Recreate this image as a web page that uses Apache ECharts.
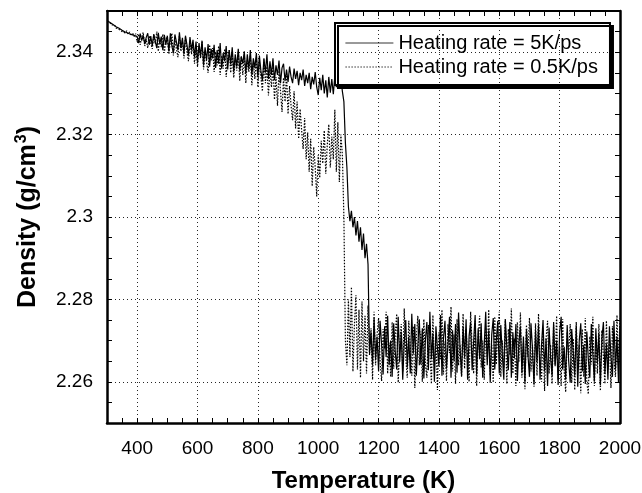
<!DOCTYPE html>
<html>
<head>
<meta charset="utf-8">
<script src="https://cdn.jsdelivr.net/npm/echarts@6/dist/echarts.min.js"></script>
<style>
html,body{margin:0;padding:0;background:#fff;}
#chart{width:642px;height:493px;}
</style>
</head>
<body>
<div id="chart"></div>
<script>
// Temperature grid (K), 300..2000 every 5 K
var temperature = [];
for (var t = 300; t <= 2000; t += 5) temperature.push(t);

// Heating rate = 5K/ps (solid), one value per 5 K
var rate5 = [
  2.3477, 2.3474, 2.3472, 2.3469, 2.3467, 2.3465, 2.3462, 2.3463, 2.3458, 2.3455,
  2.3453, 2.3455, 2.3449, 2.3451, 2.3446, 2.3448, 2.3443, 2.3446, 2.3441, 2.3444,
  2.3438, 2.3422, 2.3445, 2.3428, 2.3441, 2.3420, 2.3436, 2.3446, 2.3418, 2.3439,
  2.3415, 2.3444, 2.3426, 2.3410, 2.3447, 2.3420, 2.3438, 2.3405, 2.3442, 2.3418,
  2.3440, 2.3402, 2.3446, 2.3415, 2.3398, 2.3443, 2.3425, 2.3405, 2.3448, 2.3410,
  2.3435, 2.3396, 2.3440, 2.3418, 2.3392, 2.3437, 2.3405, 2.3430, 2.3388, 2.3426,
  2.3375, 2.3422, 2.3390, 2.3428, 2.3368, 2.3412, 2.3380, 2.3420, 2.3365, 2.3408,
  2.3385, 2.3418, 2.3362, 2.3405, 2.3372, 2.3422, 2.3360, 2.3398, 2.3378, 2.3415,
  2.3358, 2.3405, 2.3370, 2.3412, 2.3352, 2.3395, 2.3365, 2.3408, 2.3355, 2.3390,
  2.3372, 2.3402, 2.3348, 2.3395, 2.3360, 2.3405, 2.3345, 2.3385, 2.3362, 2.3398,
  2.3340, 2.3392, 2.3355, 2.3330, 2.3385, 2.3350, 2.3395, 2.3335, 2.3378, 2.3345,
  2.3385, 2.3332, 2.3368, 2.3345, 2.3380, 2.3325, 2.3362, 2.3372, 2.3330, 2.3358,
  2.3328, 2.3365, 2.3340, 2.3325, 2.3360, 2.3335, 2.3355, 2.3320, 2.3350, 2.3332,
  2.3358, 2.3318, 2.3345, 2.3325, 2.3350, 2.3310, 2.3340, 2.3322, 2.3352, 2.3315,
  2.3296, 2.3338, 2.3308, 2.3345, 2.3300, 2.3332, 2.3290, 2.3340, 2.3302, 2.3335,
  2.3298, 2.3342, 2.3315, 2.3348, 2.3320, 2.3338, 2.3305, 2.3280, 2.3180, 2.3120,
  2.3025, 2.2990, 2.3015, 2.2975, 2.3000, 2.2955, 2.2990, 2.2940, 2.2975, 2.2920,
  2.2960, 2.2900, 2.2935, 2.2885, 2.2670, 2.2720, 2.2640, 2.2755, 2.2655, 2.2710,
  2.2625, 2.2748, 2.2690, 2.2618, 2.2735, 2.2660, 2.2760, 2.2640, 2.2700, 2.2612,
  2.2742, 2.2675, 2.2630, 2.2758, 2.2648, 2.2722, 2.2605, 2.2695, 2.2750, 2.2635,
  2.2710, 2.2620, 2.2765, 2.2668, 2.2740, 2.2615, 2.2688, 2.2752, 2.2642, 2.2730,
  2.2608, 2.2700, 2.2745, 2.2628, 2.2770, 2.2655, 2.2718, 2.2600, 2.2735, 2.2682,
  2.2638, 2.2762, 2.2615, 2.2705, 2.2748, 2.2632, 2.2690, 2.2758, 2.2610, 2.2725,
  2.2650, 2.2740, 2.2622, 2.2768, 2.2680, 2.2615, 2.2735, 2.2660, 2.2752, 2.2605,
  2.2712, 2.2745, 2.2628, 2.2698, 2.2762, 2.2618, 2.2730, 2.2655, 2.2742, 2.2610,
  2.2688, 2.2770, 2.2640, 2.2725, 2.2598, 2.2715, 2.2755, 2.2630, 2.2700, 2.2748,
  2.2620, 2.2738, 2.2665, 2.2605, 2.2752, 2.2685, 2.2628, 2.2745, 2.2610, 2.2720,
  2.2658, 2.2740, 2.2602, 2.2695, 2.2735, 2.2622, 2.2710, 2.2598, 2.2728, 2.2665,
  2.2612, 2.2742, 2.2680, 2.2595, 2.2725, 2.2648, 2.2738, 2.2605, 2.2690, 2.2750,
  2.2625, 2.2705, 2.2590, 2.2732, 2.2660, 2.2615, 2.2745, 2.2638, 2.2700, 2.2592,
  2.2720, 2.2758, 2.2630, 2.2685, 2.2605, 2.2738, 2.2650, 2.2598, 2.2728, 2.2672,
  2.2615, 2.2735, 2.2588, 2.2700, 2.2742, 2.2625, 2.2690, 2.2595, 2.2722, 2.2655,
  2.2610, 2.2740, 2.2668, 2.2600, 2.2730, 2.2645, 2.2718, 2.2592, 2.2705, 2.2745,
  2.2620, 2.2692, 2.2605, 2.2735, 2.2660, 2.2612, 2.2748, 2.2630, 2.2710, 2.2598,
  2.2735
];

// Heating rate = 0.5K/ps (dotted), one value per 5 K
var rate05 = [
  2.3474, 2.3470, 2.3471, 2.3466, 2.3463, 2.3466, 2.3459, 2.3461, 2.3455, 2.3457,
  2.3450, 2.3454, 2.3447, 2.3452, 2.3444, 2.3449, 2.3440, 2.3447, 2.3438, 2.3445,
  2.3425, 2.3444, 2.3418, 2.3436, 2.3448, 2.3415, 2.3432, 2.3410, 2.3440, 2.3422,
  2.3408, 2.3442, 2.3420, 2.3450, 2.3402, 2.3435, 2.3412, 2.3444, 2.3398, 2.3430,
  2.3438, 2.3395, 2.3425, 2.3446, 2.3392, 2.3430, 2.3408, 2.3388, 2.3440, 2.3402,
  2.3428, 2.3385, 2.3436, 2.3400, 2.3378, 2.3425, 2.3395, 2.3420, 2.3372, 2.3410,
  2.3365, 2.3415, 2.3385, 2.3425, 2.3358, 2.3405, 2.3375, 2.3350, 2.3418, 2.3380,
  2.3410, 2.3352, 2.3400, 2.3368, 2.3415, 2.3345, 2.3392, 2.3360, 2.3408, 2.3340,
  2.3388, 2.3405, 2.3350, 2.3398, 2.3338, 2.3385, 2.3355, 2.3402, 2.3330, 2.3390,
  2.3345, 2.3395, 2.3325, 2.3380, 2.3352, 2.3392, 2.3320, 2.3375, 2.3335, 2.3388,
  2.3315, 2.3375, 2.3340, 2.3305, 2.3382, 2.3325, 2.3365, 2.3295, 2.3358, 2.3315,
  2.3365, 2.3285, 2.3340, 2.3270, 2.3355, 2.3305, 2.3255, 2.3338, 2.3280, 2.3348,
  2.3250, 2.3318, 2.3270, 2.3235, 2.3305, 2.3215, 2.3280, 2.3190, 2.3262, 2.3210,
  2.3165, 2.3240, 2.3140, 2.3205, 2.3110, 2.3190, 2.3075, 2.3170, 2.3120, 2.3050,
  2.3150, 2.3095, 2.3185, 2.3130, 2.3210, 2.3105, 2.3175, 2.3225, 2.3120, 2.3195,
  2.3140, 2.3260, 2.3110, 2.3230, 2.3085, 2.3200, 2.3150, 2.3000, 2.2700, 2.2640,
  2.2800, 2.2660, 2.2830, 2.2625, 2.2740, 2.2810, 2.2630, 2.2775, 2.2610, 2.2795,
  2.2650, 2.2760, 2.2620, 2.2785, 2.2665, 2.2730, 2.2605, 2.2770, 2.2640, 2.2715,
  2.2755, 2.2650, 2.2602, 2.2728, 2.2680, 2.2770, 2.2620, 2.2695, 2.2612, 2.2745,
  2.2632, 2.2712, 2.2765, 2.2598, 2.2690, 2.2740, 2.2625, 2.2778, 2.2660, 2.2610,
  2.2748, 2.2685, 2.2615, 2.2735, 2.2585, 2.2705, 2.2760, 2.2640, 2.2722, 2.2600,
  2.2752, 2.2645, 2.2610, 2.2738, 2.2678, 2.2595, 2.2762, 2.2628, 2.2710, 2.2580,
  2.2720, 2.2655, 2.2775, 2.2618, 2.2698, 2.2602, 2.2740, 2.2670, 2.2782, 2.2625,
  2.2715, 2.2595, 2.2752, 2.2640, 2.2690, 2.2612, 2.2765, 2.2632, 2.2728, 2.2660,
  2.2600, 2.2770, 2.2685, 2.2620, 2.2748, 2.2590, 2.2712, 2.2760, 2.2635, 2.2700,
  2.2605, 2.2735, 2.2655, 2.2775, 2.2615, 2.2690, 2.2598, 2.2758, 2.2642, 2.2722,
  2.2770, 2.2612, 2.2700, 2.2635, 2.2752, 2.2595, 2.2728, 2.2665, 2.2778, 2.2620,
  2.2705, 2.2590, 2.2745, 2.2648, 2.2768, 2.2610, 2.2695, 2.2582, 2.2738, 2.2660,
  2.2755, 2.2625, 2.2690, 2.2588, 2.2742, 2.2615, 2.2765, 2.2650, 2.2600, 2.2730,
  2.2578, 2.2705, 2.2748, 2.2620, 2.2690, 2.2595, 2.2738, 2.2642, 2.2760, 2.2605,
  2.2685, 2.2590, 2.2752, 2.2628, 2.2575, 2.2720, 2.2665, 2.2740, 2.2598, 2.2705,
  2.2580, 2.2745, 2.2632, 2.2690, 2.2572, 2.2728, 2.2612, 2.2755, 2.2600, 2.2570,
  2.2710, 2.2642, 2.2758, 2.2590, 2.2695, 2.2620, 2.2740, 2.2578, 2.2725, 2.2660,
  2.2595, 2.2748, 2.2630, 2.2700, 2.2585, 2.2735, 2.2652, 2.2612, 2.2762, 2.2640,
  2.2755
];

var xGridLines = [400, 600, 800, 1000, 1200, 1400, 1600, 1800];
var yGridLines = [2.26, 2.28, 2.30, 2.32, 2.34];
var xTickLabels = [400, 600, 800, 1000, 1200, 1400, 1600, 1800, 2000];
var yTickLabels = [2.26, 2.28, 2.30, 2.32, 2.34];

function pairs(ys) {
  var out = [];
  for (var i = 0; i < ys.length && i < temperature.length; i++) out.push([temperature[i], ys[i]]);
  return out;
}
function near(list, v) {
  for (var i = 0; i < list.length; i++) if (Math.abs(list[i] - v) < 1e-6) return true;
  return false;
}

var FONT = '"Liberation Sans", Arial, Helvetica, sans-serif';
var chart = echarts.init(document.getElementById('chart'), null, {renderer: 'canvas'});

var gridMarks = [];
xGridLines.forEach(function (x) { gridMarks.push({xAxis: x}); });
yGridLines.forEach(function (y) { gridMarks.push({yAxis: y}); });

chart.setOption({
  animation: false,
  backgroundColor: '#fff',
  grid: {left: 107, right: 22, top: 11, bottom: 70, containLabel: false, outerBoundsMode: 'none'},
  legend: {
    left: 335, top: 23,
    orient: 'vertical',
    padding: [10, 12, 8, 10],
    itemGap: 4,
    itemWidth: 48, itemHeight: 14,
    backgroundColor: '#fff',
    borderColor: '#000', borderWidth: 2, borderRadius: 0,
    shadowColor: '#000', shadowBlur: 0, shadowOffsetX: 3, shadowOffsetY: 3,
    itemStyle: {opacity: 0},
    lineStyle: {width: 0.8},
    textStyle: {fontFamily: FONT, fontSize: 20, color: '#000'},
    data: ['Heating rate = 5K/ps', 'Heating rate = 0.5K/ps']
  },
  xAxis: [{
    type: 'value', min: 300, max: 2000, interval: 50,
    position: 'bottom',
    axisLine: {show: true, onZero: false, lineStyle: {color: '#000', width: 2.5}},
    axisTick: {show: true, inside: true, length: 5, lineStyle: {color: '#000', width: 1}},
    axisLabel: {
      margin: 16, fontFamily: FONT, fontSize: 19, color: '#000',
      formatter: function (v) { return near(xTickLabels, v) ? String(v) : ''; }
    },
    splitLine: {show: false},
    name: 'Temperature (K)', nameLocation: 'middle', nameGap: 46,
    nameTextStyle: {fontFamily: FONT, fontSize: 24, fontWeight: 'bold', color: '#000'}
  }, {
    type: 'value', min: 300, max: 2000, interval: 50,
    position: 'top',
    axisLine: {show: true, onZero: false, lineStyle: {color: '#000', width: 2}},
    axisTick: {show: true, inside: true, length: 5, lineStyle: {color: '#000', width: 1}},
    axisLabel: {show: false},
    splitLine: {show: false}
  }],
  yAxis: [{
    type: 'value', min: 2.25, max: 2.35, interval: 0.005,
    position: 'left',
    axisLine: {show: true, onZero: false, lineStyle: {color: '#000', width: 2.5}},
    axisTick: {show: true, inside: true, length: 5, lineStyle: {color: '#000', width: 1}},
    axisLabel: {
      margin: 14, fontFamily: FONT, fontSize: 19, color: '#000',
      formatter: function (v) { return near(yTickLabels, v) ? String(Math.round(v * 100) / 100) : ''; }
    },
    splitLine: {show: false},
    name: 'Density (g/cm{sup|3})', nameLocation: 'middle', nameGap: 64,
    nameTextStyle: {
      fontFamily: FONT, fontSize: 25, fontWeight: 'bold', color: '#000',
      rich: {sup: {fontFamily: FONT, fontSize: 16, fontWeight: 'bold', color: '#000', verticalAlign: 'top', padding: [0, 0, 13, 1]}}
    }
  }, {
    type: 'value', min: 2.25, max: 2.35, interval: 0.005,
    position: 'right',
    axisLine: {show: true, onZero: false, lineStyle: {color: '#000', width: 2.5}},
    axisTick: {show: true, inside: true, length: 5, lineStyle: {color: '#000', width: 1}},
    axisLabel: {show: false},
    splitLine: {show: false}
  }],
  series: [{
    name: 'gridlines', type: 'line', data: [], z: 1, silent: true,
    markLine: {
      silent: true, symbol: ['none', 'none'], label: {show: false}, animation: false,
      lineStyle: {color: '#000', width: 1, type: [1, 3], opacity: 0.85},
      data: gridMarks
    }
  }, {
    name: 'Heating rate = 5K/ps', type: 'line', data: pairs(rate5),
    xAxisIndex: 0, yAxisIndex: 0, z: 3,
    symbol: 'none', showSymbol: false, clip: true,
    lineStyle: {color: '#000', width: 1.2, type: 'solid'},
    itemStyle: {color: '#000'}
  }, {
    name: 'Heating rate = 0.5K/ps', type: 'line', data: pairs(rate05),
    xAxisIndex: 0, yAxisIndex: 0, z: 2,
    symbol: 'none', showSymbol: false, clip: true,
    lineStyle: {color: '#000', width: 1.2, type: [1.5, 1.5]},
    itemStyle: {color: '#000'}
  }]
});
</script>
</body>
</html>
